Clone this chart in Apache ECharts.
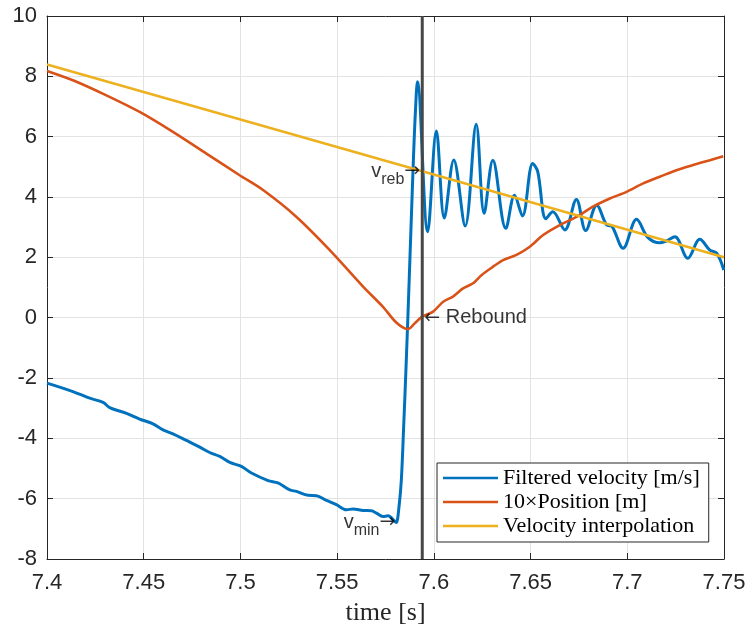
<!DOCTYPE html>
<html><head><meta charset="utf-8">
<script src="https://cdn.jsdelivr.net/npm/echarts@6/dist/echarts.min.js"></script>
<style>html,body{margin:0;padding:0;background:#fff}#c{width:748px;height:630px}</style>
</head><body><div id="c"></div>
<script>
// ---- data ----
const velocityTime = [7.4000,7.4134,7.4221,7.4290,7.4324,7.4411,7.4479,7.4548,7.4600,7.4651,7.4721,7.4790,7.4841,7.4893,7.4945,7.5005,7.5057,7.5143,7.5194,7.5255,7.5290,7.5350,7.5393,7.5445,7.5496,7.5548,7.5582,7.5634,7.5677,7.5703,7.5737,7.5763,7.5798,7.5806,7.5820,7.5832,7.5844,7.5857,7.5870,7.5883,7.5894,7.5905,7.5915,7.5968,7.6013,7.6054,7.6103,7.6162,7.6219,7.6260,7.6305,7.6372,7.6417,7.6458,7.6511,7.6537,7.6579,7.6615,7.6677,7.6737,7.6785,7.6842,7.6894,7.6920,7.6978,7.7048,7.7106,7.7168,7.7204,7.7246,7.7313,7.7375,7.7427,7.7463,7.7499];
const velocityValue = [-2.17,-2.45,-2.67,-2.81,-2.98,-3.17,-3.36,-3.52,-3.72,-3.85,-4.07,-4.29,-4.47,-4.60,-4.80,-4.93,-5.15,-5.40,-5.48,-5.71,-5.76,-5.89,-5.90,-6.06,-6.20,-6.37,-6.34,-6.39,-6.40,-6.48,-6.59,-6.57,-6.75,-6.79,-6.26,-5.37,-3.6,-1.5,0.8,3.2,5.2,6.88,7.82,2.85,6.19,3.30,5.23,3.04,6.41,3.46,5.22,2.96,4.06,3.37,5.11,4.84,3.28,3.51,2.91,3.92,2.89,3.73,3.07,3.03,2.30,3.26,2.66,2.48,2.55,2.68,1.97,2.60,2.24,2.13,1.58];

const positionTime = [7.4000,7.4134,7.4307,7.4479,7.4651,7.4824,7.4996,7.5117,7.5290,7.5462,7.5634,7.5737,7.5807,7.5867,7.5901,7.5936,7.5996,7.6048,7.6099,7.6151,7.6203,7.6246,7.6306,7.6358,7.6427,7.6496,7.6565,7.6651,7.6737,7.6823,7.6910,7.6996,7.7082,7.7168,7.7254,7.7340,7.7427,7.7496];
const positionValue = [8.18,7.87,7.37,6.82,6.16,5.44,4.72,4.23,3.34,2.24,1.03,0.36,-0.17,-0.38,-0.19,0.02,0.20,0.53,0.70,0.97,1.14,1.41,1.69,1.91,2.08,2.35,2.74,3.07,3.34,3.68,3.95,4.17,4.45,4.67,4.89,5.06,5.22,5.35];

const interpTime = [7.4, 7.5, 7.594, 7.75];
const interpValue = [8.39, 6.57, 4.85, 2.0];

const reboundTime = 7.594;
const yTickMin = -8, yTickMax = 10, yTickStep = 2;
const xTickMin = 7.4, xTickMax = 7.75, xTickStep = 0.05;

const vRebPoint = [7.594, 4.85];
const vMinPoint = [7.5806, -6.79];
const reboundPoint = [7.594, 0.0];

const seriesNames = ['Filtered velocity [m/s]', '10×Position [m]', 'Velocity interpolation'];

// ---- chart ----
const zip = (a, b) => a.map((t, i) => [t, b[i]]);
const axisColor = '#262626';
const gridColor = '#e3e3e3';
const sans = 'Liberation Sans, Arial, Helvetica, sans-serif';
const serif = 'Liberation Serif, Times New Roman, serif';
const fmtX = v => String(parseFloat(v.toFixed(2)));

const chart = echarts.init(document.getElementById('c'), null, {renderer: 'canvas'});
const baseX = {type: 'value', min: xTickMin, max: xTickMax, interval: xTickStep,
  axisLine: {show: true, onZero: false, lineStyle: {color: axisColor, width: 1}},
  axisTick: {show: true, inside: true, length: 6, lineStyle: {color: axisColor}}};
const baseY = {type: 'value', min: yTickMin, max: yTickMax, interval: yTickStep,
  axisLine: {show: true, onZero: false, lineStyle: {color: axisColor, width: 1}},
  axisTick: {show: true, inside: true, length: 6, lineStyle: {color: axisColor}}};

const annRich = {
  v: {fontSize: 20, fontFamily: sans, color: '#000'},
  s: {fontSize: 16, fontFamily: sans, color: '#000', padding: [16, 0, 0, 0]},
  a: {fontSize: 19, fontFamily: 'DejaVu Sans', color: '#000'},
  t: {fontSize: 20, fontFamily: sans, color: '#000'}
};

chart.setOption({
  animation: false,
  backgroundColor: '#fff',
  grid: {left: 47, top: 16, right: 24, bottom: 71, containLabel: false, outerBoundsMode: 'none'},
  xAxis: [
    Object.assign({}, baseX, {position: 'bottom',
      axisLabel: {fontSize: 22, fontFamily: sans, color: axisColor, margin: 13, formatter: fmtX},
      splitLine: {show: true, lineStyle: {color: gridColor, width: 1}},
      name: 'time [s]', nameLocation: 'middle', nameGap: 41,
      nameTextStyle: {fontFamily: serif, fontSize: 26, color: axisColor}}),
    Object.assign({}, baseX, {position: 'top', axisLabel: {show: false}, splitLine: {show: false}})
  ],
  yAxis: [
    Object.assign({}, baseY, {position: 'left',
      axisLabel: {fontSize: 22, fontFamily: sans, color: axisColor, margin: 10},
      splitLine: {show: true, lineStyle: {color: gridColor, width: 1}}}),
    Object.assign({}, baseY, {position: 'right', axisLabel: {show: false}, splitLine: {show: false}})
  ],
  legend: {
    orient: 'vertical', left: 437, top: 463, data: seriesNames, icon: 'rect',
    itemWidth: 55, itemHeight: 2.5, itemGap: 2, padding: [4, 9, 5, 6],
    borderColor: axisColor, borderWidth: 1, backgroundColor: '#fff', selectedMode: false,
    textStyle: {fontFamily: serif, fontSize: 22, color: '#000', lineHeight: 22}
  },
  series: [
    {name: seriesNames[0], type: 'line', data: zip(velocityTime, velocityValue), smooth: 0.35,
      showSymbol: false, lineStyle: {color: '#0072BD', width: 3}, itemStyle: {color: '#0072BD'}, z: 2},
    {name: seriesNames[1], type: 'line', data: zip(positionTime, positionValue), smooth: 0.3,
      showSymbol: false, lineStyle: {color: '#D95319', width: 2.6}, itemStyle: {color: '#D95319'}, z: 3},
    {name: seriesNames[2], type: 'line', data: zip(interpTime, interpValue),
      showSymbol: false, lineStyle: {color: '#EDB120', width: 2.6}, itemStyle: {color: '#EDB120'}, z: 4},
    {name: 'rebound', type: 'line', data: [[reboundTime, yTickMin], [reboundTime, yTickMax]],
      showSymbol: false, lineStyle: {color: '#474747', width: 3}, z: 5, silent: true},
    {name: 'ann1', type: 'scatter', data: [vRebPoint], symbolSize: 0, z: 6, silent: true,
      label: {show: true, position: 'left', distance: 2, formatter: '{v|v}{s|reb}{a|→}', rich: annRich}},
    {name: 'ann2', type: 'scatter', data: [vMinPoint], symbolSize: 0, z: 6, silent: true,
      label: {show: true, position: 'left', distance: 1, formatter: '{v|v}{s|min}{a|→}', rich: annRich}},
    {name: 'ann3', type: 'scatter', data: [reboundPoint], symbolSize: 0, z: 6, silent: true,
      label: {show: true, position: 'right', distance: 2, formatter: '{a|←}{t| Rebound}', rich: annRich}}
  ]
});
</script>
</body></html>
